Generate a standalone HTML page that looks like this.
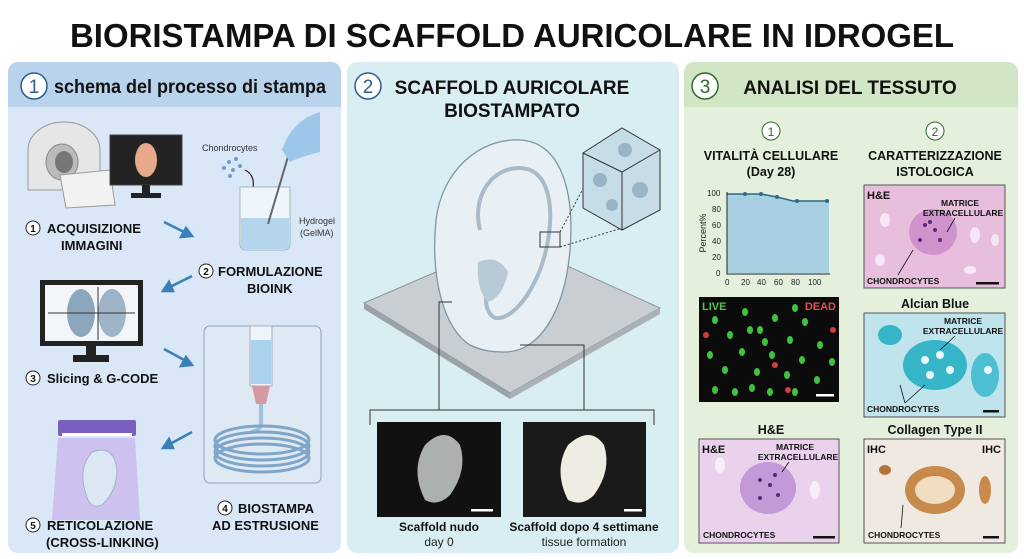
<!DOCTYPE html>
<html><head><meta charset="utf-8"><style>
html,body{margin:0;padding:0;background:#fff;}
svg{display:block;font-family:"Liberation Sans",Arial,sans-serif;}
</style></head><body>
<svg width="1024" height="559" viewBox="0 0 1024 559" xmlns="http://www.w3.org/2000/svg">
<rect width="1024" height="559" fill="#ffffff"/>
<text x="512" y="47" text-anchor="middle" font-size="33" font-weight="bold" fill="#111" textLength="884" lengthAdjust="spacingAndGlyphs">BIORISTAMPA DI SCAFFOLD AURICOLARE IN IDROGEL</text>

<!-- Panel 1 -->
<rect x="8" y="62" width="333" height="491" rx="10" fill="#d9e7f6"/>
<path d="M18 62 H331 a10 10 0 0 1 10 10 V107 H8 V72 a10 10 0 0 1 10 -10z" fill="#b9d3ec"/>
<circle cx="34" cy="86" r="13" fill="#fff" stroke="#2c5d8a" stroke-width="1.5"/>
<text x="34" y="93" text-anchor="middle" font-size="19" fill="#2c5d8a">1</text>
<text x="54" y="93" font-size="19" font-weight="bold" fill="#111" textLength="272" lengthAdjust="spacingAndGlyphs">schema del processo di stampa</text>

<!-- MRI -->
<path d="M28 190 V150 a36 28 0 0 1 72 0 V190z" fill="#e6e6e6" stroke="#999"/>
<ellipse cx="62" cy="162" rx="16" ry="18" fill="#bbb" stroke="#888"/>
<ellipse cx="64" cy="162" rx="9" ry="11" fill="#777"/>
<path d="M60 175 L110 170 L115 205 L66 208z" fill="#f2f2f2" stroke="#999"/>
<!-- monitor 1 -->
<rect x="110" y="135" width="72" height="50" fill="#222" stroke="#444"/>
<ellipse cx="146" cy="160" rx="11" ry="17" fill="#e7a98c"/>
<rect x="142" y="185" width="8" height="8" fill="#222"/><rect x="131" y="193" width="30" height="5" fill="#222"/>
<text x="202" y="151" font-size="9" fill="#333">Chondrocytes</text>
<g fill="#6f9ccc"><circle cx="229" cy="162" r="2"/><circle cx="236" cy="159" r="2"/><circle cx="224" cy="168" r="2"/><circle cx="233" cy="170" r="2"/><circle cx="240" cy="166" r="2"/><circle cx="230" cy="176" r="2"/></g>
<path d="M245 170 q10 5 8 18" fill="none" stroke="#222" stroke-width="1.2"/>
<!-- beaker -->
<path d="M240 187 h50 v58 a5 5 0 0 1 -5 5 h-40 a5 5 0 0 1 -5 -5z" fill="#eef6fc" stroke="#9bb" />
<rect x="241" y="218" width="48" height="31" fill="#b5d5ec"/>
<line x1="268" y1="224" x2="290" y2="150" stroke="#666" stroke-width="2"/>
<path d="M282 150 q10 -30 38 -38 v40 q-20 5 -30 10z" fill="#9cc7ea"/>
<text x="299" y="224" font-size="9" fill="#333">Hydrogel</text>
<text x="300" y="236" font-size="9" fill="#333">(GelMA)</text>

<g font-weight="bold" font-size="13" fill="#111">
<circle cx="33" cy="228" r="7" fill="#fff" stroke="#222"/><text x="33" y="232" font-size="10" text-anchor="middle">1</text>
<text x="47" y="233">ACQUISIZIONE</text><text x="61" y="250">IMMAGINI</text>
<circle cx="206" cy="271" r="7" fill="#fff" stroke="#222"/><text x="206" y="275" font-size="10" text-anchor="middle">2</text>
<text x="218" y="276">FORMULAZIONE</text><text x="247" y="293">BIOINK</text>
<circle cx="33" cy="378" r="7" fill="#fff" stroke="#222"/><text x="33" y="382" font-size="10" text-anchor="middle">3</text>
<text x="47" y="383">Slicing &amp; G-CODE</text>
<circle cx="225" cy="508" r="7" fill="#fff" stroke="#222"/><text x="225" y="512" font-size="10" text-anchor="middle">4</text>
<text x="238" y="513">BIOSTAMPA</text><text x="212" y="530">AD ESTRUSIONE</text>
<circle cx="33" cy="525" r="7" fill="#fff" stroke="#222"/><text x="33" y="529" font-size="10" text-anchor="middle">5</text>
<text x="47" y="530">RETICOLAZIONE</text><text x="46" y="547">(CROSS-LINKING)</text>
</g>
<!-- arrows -->
<g stroke="#3a7fb5" stroke-width="2.5" fill="#3a7fb5">
<line x1="164" y1="222" x2="186" y2="233"/><path d="M192 236 l-11 1 l5 -9z"/>
<line x1="192" y1="276" x2="170" y2="287"/><path d="M163 291 l6 -9 l4 9z"/>
<line x1="164" y1="349" x2="186" y2="361"/><path d="M192 365 l-11 1 l5 -9z"/>
<line x1="192" y1="432" x2="170" y2="444"/><path d="M163 448 l6 -9 l4 9z"/>
</g>
<!-- monitor 2 -->
<rect x="40" y="280" width="103" height="66" fill="#222"/>
<rect x="45" y="285" width="93" height="56" fill="#f3f6f8"/>
<ellipse cx="81" cy="313" rx="14" ry="24" fill="#8ca6be"/>
<ellipse cx="112" cy="313" rx="14" ry="24" fill="#9fb4c8"/>
<line x1="48" y1="313" x2="135" y2="313" stroke="#333"/>
<line x1="98" y1="287" x2="98" y2="340" stroke="#333"/>
<rect x="86" y="346" width="10" height="10" fill="#222"/><rect x="73" y="355" width="36" height="7" fill="#222"/>
<!-- printer box -->
<rect x="204" y="326" width="117" height="157" rx="6" fill="#dfe9f3" stroke="#8fa4b8"/>
<rect x="250" y="326" width="22" height="60" fill="#eef5fa" stroke="#aab"/>
<rect x="251" y="340" width="20" height="44" fill="#a9d2ef"/>
<path d="M252 386 h18 l-4 18 h-10z" fill="#d49aa4"/>
<path d="M261 404 v20 q0 6 -10 8" fill="none" stroke="#9cc3e2" stroke-width="4"/>
<g fill="none" stroke="#7fa6c8" stroke-width="3">
<ellipse cx="262" cy="440" rx="47" ry="14"/><ellipse cx="262" cy="446" rx="47" ry="14"/><ellipse cx="262" cy="452" rx="47" ry="14"/><ellipse cx="262" cy="458" rx="47" ry="14"/></g>
<!-- UV -->
<polygon points="58,438 135,438 140,520 52,520" fill="#c9b8ef" opacity="0.8"/>
<rect x="58" y="420" width="78" height="16" rx="2" fill="#7a5fc0"/>
<rect x="62" y="433" width="70" height="3" fill="#fff"/>
<path d="M88 500 q-12 -30 4 -48 q22 -8 25 18 q0 20 -14 34 q-10 6 -15 -4z" fill="#dbe8f4" stroke="#9fb4c8"/>

<!-- Panel 2 -->
<rect x="347" y="62" width="332" height="491" rx="10" fill="#d8eef2"/>
<circle cx="368" cy="86" r="13" fill="#fff" stroke="#2c5d8a" stroke-width="1.5"/>
<text x="368" y="93" text-anchor="middle" font-size="19" fill="#2c5d8a">2</text>
<text x="512" y="94" text-anchor="middle" font-size="19" font-weight="bold" fill="#111">SCAFFOLD AURICOLARE</text>
<text x="512" y="117" text-anchor="middle" font-size="19" font-weight="bold" fill="#111">BIOSTAMPATO</text>
<!-- plate -->
<polygon points="364,303 510,240 660,308 510,393" fill="#c9ced3" stroke="#8a949c"/>
<polygon points="364,303 510,393 510,399 364,309" fill="#9aa3aa"/>
<polygon points="510,393 660,308 660,314 510,399" fill="#aab2b8"/>
<!-- ear -->
<path d="M470 345 C445 330 430 280 436 220 C442 170 480 138 520 140 C560 142 575 190 570 250 C565 310 540 352 505 352 C490 352 480 350 470 345z" fill="#e8f0f6" stroke="#7f93a3" stroke-width="1.3"/>
<path d="M480 230 C470 190 500 160 530 170 C555 180 555 230 540 270 C528 300 510 320 495 318 C480 310 485 280 500 270" fill="none" stroke="#a9bac8" stroke-width="4"/>
<path d="M478 262 q20 -8 30 10 q-5 25 -20 30 q-12 -12 -10 -40z" fill="#b9cad7"/>
<rect x="540" y="232" width="20" height="15" fill="none" stroke="#333"/>
<line x1="560" y1="232" x2="610" y2="138" stroke="#333" stroke-dasharray="2,2"/>
<line x1="560" y1="247" x2="622" y2="228" stroke="#333" stroke-dasharray="2,2"/>
<polygon points="583,153 622,128 660,150 660,210 622,230 583,208" fill="#c6dde8" stroke="#333"/>
<polyline points="583,153 622,172 660,150" fill="none" stroke="#333"/><line x1="622" y1="172" x2="622" y2="230" stroke="#333"/>
<g fill="#98b5c8"><circle cx="600" cy="180" r="7"/><circle cx="640" cy="190" r="8"/><circle cx="612" cy="205" r="6"/><circle cx="625" cy="150" r="7"/></g>
<!-- bracket -->
<g stroke="#333" fill="none" stroke-width="1">
<polyline points="452,302 439,302 439,410"/><polyline points="520,345 584,345 584,410"/>
<polyline points="370,425 370,410 654,410 654,425"/></g>
<rect x="377" y="422" width="124" height="95" fill="#111"/>
<path d="M425 500 q-15 -30 0 -55 q20 -20 35 0 q8 25 -10 50 q-12 12 -25 5z" fill="#c9ccce" opacity="0.85"/>
<rect x="471" y="509" width="22" height="2.5" fill="#fff"/>
<rect x="523" y="422" width="123" height="95" fill="#1a1a1a"/>
<path d="M568 500 q-15 -30 0 -55 q22 -20 36 0 q8 25 -10 50 q-12 12 -26 5z" fill="#efece4"/>
<rect x="624" y="509" width="18" height="2.5" fill="#fff"/>
<text x="439" y="531" text-anchor="middle" font-size="12" font-weight="bold" fill="#111">Scaffold nudo</text>
<text x="439" y="546" text-anchor="middle" font-size="12" fill="#222">day 0</text>
<text x="584" y="531" text-anchor="middle" font-size="12" font-weight="bold" fill="#111">Scaffold dopo 4 settimane</text>
<text x="584" y="546" text-anchor="middle" font-size="12" fill="#222">tissue formation</text>

<!-- Panel 3 -->
<rect x="684" y="62" width="334" height="491" rx="10" fill="#e4f0dc"/>
<path d="M694 62 H1008 a10 10 0 0 1 10 10 V107 H684 V72 a10 10 0 0 1 10 -10z" fill="#d1e6c4"/>
<circle cx="705" cy="86" r="13" fill="#fff" stroke="#2e6a2e" stroke-width="1.5"/>
<text x="705" y="93" text-anchor="middle" font-size="19" fill="#2e6a2e">3</text>
<text x="850" y="94" text-anchor="middle" font-size="19" font-weight="bold" fill="#111">ANALISI DEL TESSUTO</text>
<circle cx="771" cy="131" r="9" fill="#fff" stroke="#2e6a2e"/><text x="771" y="136" text-anchor="middle" font-size="12" fill="#2e6a2e">1</text>
<circle cx="935" cy="131" r="9" fill="#fff" stroke="#2e6a2e"/><text x="935" y="136" text-anchor="middle" font-size="12" fill="#2e6a2e">2</text>
<g font-size="12.5" font-weight="bold" fill="#111" text-anchor="middle">
<text x="771" y="160">VITALITÀ CELLULARE</text><text x="771" y="176">(Day 28)</text>
<text x="935" y="160">CARATTERIZZAZIONE</text><text x="935" y="176">ISTOLOGICA</text>
<text x="771" y="434">H&amp;E</text>
<text x="935" y="308">Alcian Blue</text><text x="935" y="434">Collagen Type II</text>
</g>
<!-- chart -->
<polygon points="727,194 745,194 761,194 777,197 793,201 829,201 829,273 727,273" fill="#a9cfe3"/>
<polyline points="727,194 745,194 761,194 777,197 793,201 829,201" fill="none" stroke="#2b6c8a" stroke-width="1.5"/>
<g fill="#2b6c8a"><circle cx="745" cy="194" r="2"/><circle cx="761" cy="194" r="2"/><circle cx="777" cy="197" r="2"/><circle cx="797" cy="201" r="2"/><circle cx="827" cy="201" r="2"/></g>
<polyline points="727,192 727,274 830,274" fill="none" stroke="#222"/>
<g font-size="8" fill="#222"><text x="707" y="196">100</text><text x="712" y="212">80</text><text x="712" y="228">60</text><text x="712" y="244">40</text><text x="712" y="260">20</text><text x="716" y="276">0</text>
<text x="725" y="285">0</text><text x="741" y="285">20</text><text x="757" y="285">40</text><text x="774" y="285">60</text><text x="791" y="285">80</text><text x="808" y="285">100</text></g>
<text x="706" y="233" font-size="9" fill="#222" transform="rotate(-90 706 233)" text-anchor="middle">Percent%</text>
<!-- H&E top -->
<rect x="864" y="185" width="141" height="103" fill="#e7bfdc" stroke="#555"/>
<ellipse cx="933" cy="232" rx="24" ry="23" fill="#cf94cc"/>
<g fill="#f5e8f4"><ellipse cx="885" cy="220" rx="5" ry="7"/><ellipse cx="975" cy="235" rx="5" ry="8"/><ellipse cx="995" cy="240" rx="4" ry="6"/><ellipse cx="880" cy="260" rx="5" ry="6"/><ellipse cx="970" cy="270" rx="6" ry="4"/></g>
<g fill="#5a2a7a"><circle cx="925" cy="225" r="2"/><circle cx="935" cy="230" r="2"/><circle cx="940" cy="240" r="2"/><circle cx="920" cy="240" r="2"/><circle cx="930" cy="222" r="2"/></g>
<!-- live dead -->
<rect x="699" y="297" width="140" height="105" fill="#0b0b0b"/>
<g fill="#3fc23f">
<ellipse cx="715" cy="320" rx="3" ry="4"/><ellipse cx="730" cy="335" rx="3" ry="4"/><ellipse cx="745" cy="312" rx="3" ry="4"/><ellipse cx="760" cy="330" rx="3" ry="4"/><ellipse cx="775" cy="318" rx="3" ry="4"/><ellipse cx="790" cy="340" rx="3" ry="4"/><ellipse cx="805" cy="322" rx="3" ry="4"/><ellipse cx="820" cy="345" rx="3" ry="4"/><ellipse cx="710" cy="355" rx="3" ry="4"/><ellipse cx="725" cy="370" rx="3" ry="4"/><ellipse cx="742" cy="352" rx="3" ry="4"/><ellipse cx="757" cy="372" rx="3" ry="4"/><ellipse cx="772" cy="355" rx="3" ry="4"/><ellipse cx="787" cy="375" rx="3" ry="4"/><ellipse cx="802" cy="360" rx="3" ry="4"/><ellipse cx="817" cy="380" rx="3" ry="4"/><ellipse cx="832" cy="362" rx="3" ry="4"/><ellipse cx="715" cy="390" rx="3" ry="4"/><ellipse cx="735" cy="392" rx="3" ry="4"/><ellipse cx="752" cy="388" rx="3" ry="4"/><ellipse cx="770" cy="392" rx="3" ry="4"/><ellipse cx="795" cy="392" rx="3" ry="4"/><ellipse cx="765" cy="342" rx="3" ry="4"/><ellipse cx="795" cy="308" rx="3" ry="4"/><ellipse cx="750" cy="330" rx="3" ry="4"/></g>
<g fill="#d23c3c"><circle cx="706" cy="335" r="3"/><circle cx="775" cy="365" r="3"/><circle cx="788" cy="390" r="3"/><circle cx="833" cy="330" r="3"/></g>
<text x="702" y="310" font-size="11" font-weight="bold" fill="#4fc24f">LIVE</text>
<text x="836" y="310" font-size="11" font-weight="bold" fill="#e05050" text-anchor="end">DEAD</text>
<rect x="816" y="394" width="18" height="2.5" fill="#fff"/>
<!-- Alcian -->
<rect x="864" y="313" width="141" height="104" fill="#bfe4ec" stroke="#555"/>
<ellipse cx="935" cy="365" rx="32" ry="25" fill="#36b5c9"/>
<ellipse cx="890" cy="335" rx="12" ry="10" fill="#36b5c9"/><ellipse cx="985" cy="375" rx="14" ry="22" fill="#4cc0d2"/>
<g fill="#eaf8fb"><circle cx="925" cy="360" r="4"/><circle cx="940" cy="355" r="4"/><circle cx="950" cy="370" r="4"/><circle cx="930" cy="375" r="4"/><circle cx="988" cy="370" r="4"/></g>
<!-- H&E bottom -->
<rect x="699" y="439" width="140" height="104" fill="#ead2ec" stroke="#555"/>
<ellipse cx="768" cy="488" rx="28" ry="26" fill="#c39ad8"/>
<g fill="#5a2a7a"><circle cx="760" cy="480" r="2"/><circle cx="770" cy="485" r="2"/><circle cx="778" cy="495" r="2"/><circle cx="760" cy="498" r="2"/><circle cx="775" cy="475" r="2"/></g>
<g fill="#f7eef8"><ellipse cx="720" cy="465" rx="5" ry="8"/><ellipse cx="815" cy="490" rx="5" ry="9"/></g>
<!-- collagen -->
<rect x="864" y="439" width="141" height="104" fill="#efe9e2" stroke="#555"/>
<ellipse cx="935" cy="490" rx="30" ry="24" fill="#c78a4b"/>
<ellipse cx="935" cy="490" rx="20" ry="14" fill="#f1ddc2"/>
<ellipse cx="885" cy="470" rx="6" ry="5" fill="#b5733a"/><ellipse cx="985" cy="490" rx="6" ry="14" fill="#c78a4b"/>
<g font-weight="bold" fill="#111">
<text x="867" y="199" font-size="11">H&amp;E</text>
<text x="960" y="206" font-size="8.5" text-anchor="middle">MATRICE</text><text x="963" y="216" font-size="8.5" text-anchor="middle">EXTRACELLULARE</text>
<text x="867" y="284" font-size="8.5">CHONDROCYTES</text>
<text x="963" y="324" font-size="8.5" text-anchor="middle">MATRICE</text><text x="963" y="334" font-size="8.5" text-anchor="middle">EXTRACELLULARE</text>
<text x="867" y="412" font-size="8.5">CHONDROCYTES</text>
<text x="702" y="453" font-size="11">H&amp;E</text>
<text x="795" y="450" font-size="8.5" text-anchor="middle">MATRICE</text><text x="798" y="460" font-size="8.5" text-anchor="middle">EXTRACELLULARE</text>
<text x="703" y="538" font-size="8.5">CHONDROCYTES</text>
<text x="867" y="453" font-size="11">IHC</text><text x="1001" y="453" font-size="11" text-anchor="end">IHC</text>
<text x="868" y="538" font-size="8.5">CHONDROCYTES</text>
</g>
<g fill="#111"><rect x="976" y="282" width="23" height="2.5"/><rect x="983" y="410" width="16" height="2.5"/><rect x="813" y="536" width="22" height="2.5"/><rect x="983" y="536" width="16" height="2.5"/></g>
<g stroke="#111" stroke-width="0.8"><line x1="955" y1="218" x2="947" y2="232"/><line x1="913" y1="250" x2="898" y2="275"/><line x1="905" y1="403" x2="900" y2="385"/><line x1="905" y1="403" x2="925" y2="385"/><line x1="955" y1="336" x2="940" y2="350"/><line x1="789" y1="462" x2="782" y2="472"/><line x1="901" y1="528" x2="903" y2="505"/></g>
</svg>
</body></html>
